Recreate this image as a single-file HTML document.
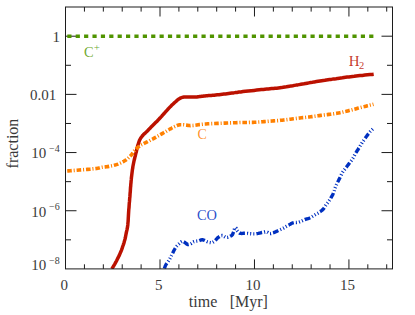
<!DOCTYPE html>
<html><head><meta charset="utf-8"><title>fraction vs time</title>
<style>html,body{margin:0;padding:0;background:#fff;overflow:hidden}svg{display:block}</style>
</head><body>
<svg width="415" height="315" viewBox="0 0 415 315">
<rect width="415" height="315" fill="#fff"/>
<defs><clipPath id="c"><rect x="65.5" y="7.0" width="327.0" height="261.9"/></clipPath></defs>
<path d="M84.44,268.9v-4.6M84.44,7.0v4.6M103.33,268.9v-4.6M103.33,7.0v4.6M122.23,268.9v-4.6M122.23,7.0v4.6M141.12,268.9v-4.6M141.12,7.0v4.6M160.01,268.9v-9.5M160.01,7.0v9.5M178.90,268.9v-4.6M178.90,7.0v4.6M197.79,268.9v-4.6M197.79,7.0v4.6M216.69,268.9v-4.6M216.69,7.0v4.6M235.58,268.9v-4.6M235.58,7.0v4.6M254.47,268.9v-9.5M254.47,7.0v9.5M273.36,268.9v-4.6M273.36,7.0v4.6M292.25,268.9v-4.6M292.25,7.0v4.6M311.15,268.9v-4.6M311.15,7.0v4.6M330.04,268.9v-4.6M330.04,7.0v4.6M348.93,268.9v-9.5M348.93,7.0v9.5M367.82,268.9v-4.6M367.82,7.0v4.6M386.71,268.9v-4.6M386.71,7.0v4.6M65.5,36.20h11M392.5,36.20h-11M65.5,65.29h5.5M392.5,65.29h-5.5M65.5,94.38h11M392.5,94.38h-11M65.5,123.47h5.5M392.5,123.47h-5.5M65.5,152.56h11M392.5,152.56h-11M65.5,181.65h5.5M392.5,181.65h-5.5M65.5,210.74h11M392.5,210.74h-11M65.5,239.83h5.5M392.5,239.83h-5.5" stroke="#1c1c1c" stroke-width="1" fill="none"/>
<g clip-path="url(#c)" fill="none">
<path d="M67.3,36.2 H373.5" stroke="#509400" stroke-width="3.6" stroke-dasharray="4.2 4.186"/>
<path d="M111.9,268.9 L112.4,268.0 L113.1,266.8 L114.0,265.3 L114.9,263.8 L115.8,262.2 L116.6,260.7 L117.3,259.3 L118.0,257.9 L118.7,256.5 L119.4,255.1 L120.0,253.6 L120.7,252.0 L121.4,250.3 L122.1,248.4 L122.7,246.5 L123.4,244.6 L124.0,242.7 L124.5,240.9 L125.0,239.2 L125.4,237.5 L125.7,235.8 L126.0,234.2 L126.3,232.7 L126.6,231.3 L126.9,230.1 L127.1,229.1 L127.3,228.2 L127.5,227.2 L127.6,226.2 L127.8,224.9 L127.9,223.4 L128.1,221.6 L128.2,219.8 L128.3,217.9 L128.4,216.1 L128.5,214.3 L128.6,212.6 L128.7,211.0 L128.8,209.4 L129.0,207.8 L129.1,206.2 L129.2,204.6 L129.3,203.0 L129.5,201.4 L129.6,199.9 L129.7,198.3 L129.9,196.7 L130.0,195.0 L130.1,193.3 L130.3,191.5 L130.4,189.7 L130.5,187.8 L130.7,186.0 L130.8,184.3 L131.0,182.6 L131.1,181.0 L131.3,179.4 L131.4,177.8 L131.6,176.2 L131.8,174.6 L132.0,173.0 L132.2,171.4 L132.4,169.7 L132.7,168.1 L132.9,166.5 L133.2,165.0 L133.5,163.5 L133.8,162.0 L134.1,160.5 L134.5,159.1 L134.8,157.7 L135.1,156.5 L135.4,155.4 L135.6,154.4 L135.8,153.5 L136.1,152.7 L136.3,151.8 L136.5,150.9 L136.7,149.9 L136.9,149.0 L137.2,148.0 L137.4,147.0 L137.6,146.0 L137.9,145.1 L138.2,144.2 L138.5,143.3 L138.8,142.4 L139.1,141.5 L139.4,140.6 L139.8,139.8 L140.2,139.0 L140.6,138.3 L141.1,137.6 L141.6,136.9 L142.1,136.2 L142.7,135.5 L143.3,134.8 L144.0,134.1 L144.8,133.4 L145.5,132.7 L146.3,132.0 L147.1,131.2 L147.9,130.4 L148.7,129.6 L149.5,128.7 L150.3,127.9 L151.1,127.1 L151.9,126.3 L152.7,125.5 L153.4,124.8 L154.2,124.0 L154.9,123.3 L155.6,122.6 L156.2,122.0 L156.8,121.4 L157.3,120.9 L157.7,120.5 L158.2,120.0 L158.7,119.4 L159.3,118.8 L160.0,118.0 L160.8,117.2 L161.6,116.3 L162.4,115.3 L163.3,114.4 L164.1,113.5 L164.9,112.6 L165.7,111.7 L166.5,110.8 L167.3,109.9 L168.1,109.1 L168.9,108.2 L169.7,107.3 L170.6,106.5 L171.4,105.6 L172.2,104.8 L173.0,104.1 L173.7,103.4 L174.3,102.8 L174.8,102.4 L175.3,102.0 L175.7,101.6 L176.1,101.3 L176.5,100.9 L176.9,100.5 L177.3,100.2 L177.6,99.9 L178.0,99.6 L178.4,99.3 L178.8,99.0 L179.3,98.7 L179.8,98.4 L180.4,98.1 L181.0,97.8 L181.6,97.6 L182.3,97.4 L183.0,97.2 L183.8,97.1 L184.6,97.0 L185.4,97.0 L186.3,96.9 L187.2,96.9 L188.2,96.9 L189.4,96.9 L190.6,97.0 L191.7,97.1 L192.9,97.1 L193.9,97.1 L194.8,97.1 L195.6,97.0 L196.3,97.0 L197.1,96.9 L197.8,96.8 L198.7,96.7 L199.6,96.6 L200.6,96.5 L201.7,96.3 L202.7,96.2 L203.9,96.0 L205.0,95.9 L206.2,95.8 L207.4,95.7 L208.6,95.6 L209.9,95.5 L211.2,95.4 L212.6,95.3 L214.1,95.2 L215.7,95.0 L217.3,94.8 L219.0,94.7 L220.7,94.5 L222.3,94.3 L223.9,94.1 L225.5,93.9 L227.0,93.7 L228.6,93.5 L230.2,93.3 L231.9,93.1 L233.6,92.9 L235.3,92.6 L237.0,92.4 L238.9,92.1 L240.8,91.9 L243.0,91.6 L245.5,91.3 L248.3,91.0 L251.2,90.7 L254.1,90.4 L256.8,90.1 L259.3,89.8 L261.4,89.6 L263.3,89.4 L265.0,89.2 L266.7,89.1 L268.3,89.0 L270.0,88.8 L271.7,88.6 L273.4,88.5 L275.1,88.3 L276.7,88.2 L278.4,88.0 L280.0,87.8 L281.6,87.6 L283.2,87.3 L284.8,87.0 L286.4,86.8 L288.0,86.5 L289.6,86.2 L291.2,85.9 L292.8,85.7 L294.5,85.4 L296.1,85.1 L297.7,84.9 L299.3,84.6 L300.9,84.3 L302.5,84.0 L304.0,83.8 L305.6,83.5 L307.2,83.2 L308.9,82.9 L310.7,82.6 L312.5,82.3 L314.4,81.9 L316.4,81.6 L318.2,81.3 L320.0,81.0 L321.7,80.7 L323.3,80.5 L324.9,80.3 L326.4,80.0 L328.0,79.8 L329.6,79.6 L331.2,79.4 L332.8,79.1 L334.5,78.9 L336.1,78.7 L337.7,78.4 L339.3,78.2 L340.9,78.0 L342.5,77.8 L344.0,77.5 L345.6,77.3 L347.2,77.1 L348.9,76.9 L350.6,76.7 L352.4,76.5 L354.2,76.3 L356.1,76.0 L358.0,75.8 L360.0,75.6 L362.3,75.4 L364.9,75.1 L367.5,74.8 L370.1,74.6 L372.2,74.4 L373.7,74.2" stroke="#bb1100" stroke-width="3.5" stroke-linejoin="round"/>
<path d="M67.2,171.0 L68.5,170.9 L70.2,170.8 L72.3,170.6 L74.6,170.4 L77.0,170.2 L79.3,170.0 L81.8,169.8 L84.5,169.6 L87.3,169.4 L90.1,169.2 L92.6,168.9 L94.7,168.7 L96.4,168.5 L97.8,168.2 L98.9,168.0 L99.9,167.7 L100.9,167.5 L101.9,167.3 L102.9,167.2 L103.8,167.1 L104.7,167.0 L105.6,166.9 L106.6,166.8 L107.7,166.6 L109.0,166.4 L110.4,166.1 L111.9,165.8 L113.4,165.5 L114.9,165.1 L116.4,164.6 L117.9,164.1 L119.4,163.4 L120.9,162.8 L122.4,162.0 L123.8,161.3 L125.1,160.5 L126.3,159.7 L127.5,158.7 L128.5,157.8 L129.5,156.8 L130.5,155.9 L131.3,155.0 L132.0,154.2 L132.6,153.4 L133.1,152.6 L133.6,151.9 L134.0,151.2 L134.5,150.6 L135.0,150.0 L135.5,149.5 L136.0,149.0 L136.5,148.5 L137.0,148.1 L137.5,147.6 L138.1,147.1 L138.7,146.7 L139.3,146.3 L139.9,145.8 L140.5,145.4 L141.2,145.0 L141.8,144.6 L142.5,144.3 L143.1,144.0 L143.8,143.6 L144.6,143.2 L145.6,142.7 L146.7,142.1 L148.0,141.4 L149.5,140.7 L150.9,139.9 L152.4,139.2 L153.8,138.4 L155.2,137.6 L156.6,136.8 L158.0,136.0 L159.4,135.2 L160.8,134.4 L162.2,133.6 L163.6,132.8 L165.1,131.9 L166.5,131.1 L167.9,130.2 L169.2,129.5 L170.4,128.8 L171.4,128.3 L172.3,127.8 L173.1,127.4 L173.8,127.0 L174.5,126.7 L175.2,126.4 L175.9,126.1 L176.5,125.8 L177.2,125.5 L177.8,125.3 L178.4,125.1 L179.1,124.9 L179.8,124.8 L180.6,124.7 L181.4,124.7 L182.3,124.7 L183.1,124.8 L183.9,124.8 L184.7,124.9 L185.5,125.0 L186.3,125.1 L187.1,125.3 L187.9,125.4 L188.7,125.5 L189.5,125.5 L190.3,125.6 L191.1,125.5 L191.9,125.5 L192.7,125.5 L193.6,125.4 L194.4,125.3 L195.3,125.2 L196.1,125.1 L197.0,124.9 L198.1,124.7 L199.3,124.6 L200.7,124.5 L202.3,124.3 L204.1,124.1 L205.9,124.0 L207.9,123.8 L210.0,123.7 L212.3,123.6 L214.8,123.5 L217.4,123.4 L220.0,123.3 L222.6,123.2 L225.0,123.1 L227.3,123.0 L229.6,122.9 L231.8,122.8 L233.9,122.7 L235.8,122.7 L237.6,122.6 L239.1,122.6 L240.3,122.5 L241.4,122.5 L242.4,122.5 L243.5,122.5 L244.8,122.5 L246.3,122.5 L247.9,122.5 L249.5,122.4 L251.2,122.4 L252.9,122.4 L254.5,122.3 L256.1,122.2 L257.7,122.1 L259.3,122.0 L260.9,121.9 L262.5,121.7 L264.1,121.6 L265.7,121.5 L267.3,121.4 L269.0,121.2 L270.6,121.1 L272.2,121.0 L273.7,120.9 L275.2,120.8 L276.6,120.7 L277.9,120.6 L279.3,120.5 L280.7,120.3 L282.2,120.2 L283.7,120.0 L285.3,119.8 L287.0,119.6 L288.6,119.4 L290.3,119.2 L291.9,119.0 L293.5,118.8 L295.1,118.6 L296.7,118.4 L298.3,118.2 L299.9,118.0 L301.5,117.8 L303.1,117.6 L304.6,117.5 L306.2,117.3 L307.7,117.1 L309.2,117.0 L310.7,116.8 L312.2,116.6 L313.6,116.4 L315.0,116.2 L316.4,116.0 L317.8,115.8 L319.3,115.6 L320.8,115.4 L322.4,115.2 L324.0,115.0 L325.7,114.8 L327.3,114.6 L328.9,114.4 L330.5,114.2 L332.1,114.0 L333.7,113.8 L335.3,113.5 L336.9,113.3 L338.5,113.0 L340.1,112.7 L341.6,112.4 L343.1,112.0 L344.6,111.6 L346.2,111.3 L347.7,110.9 L349.2,110.5 L350.8,110.1 L352.3,109.7 L353.8,109.3 L355.4,108.9 L356.9,108.5 L358.4,108.1 L360.0,107.7 L361.6,107.3 L363.1,106.9 L364.6,106.6 L366.0,106.2 L367.4,105.8 L368.9,105.5 L370.3,105.1 L371.6,104.8 L372.7,104.5 L373.5,104.3" stroke="#ff8000" stroke-width="3.6" stroke-dasharray="4.6 1.9 1.02 1.9" stroke-linejoin="round"/>
<path d="M164.3,268.9 L164.4,268.5 L164.6,267.9 L164.8,267.3 L165.1,266.5 L165.4,265.7 L165.8,264.9 L166.3,264.1 L166.9,263.2 L167.5,262.4 L168.2,261.4 L168.9,260.3 L169.6,259.1 L170.4,257.7 L171.2,256.0 L172.1,254.2 L173.0,252.4 L173.8,250.8 L174.5,249.5 L175.1,248.5 L175.6,247.7 L176.0,247.1 L176.4,246.6 L176.8,246.1 L177.3,245.6 L177.8,245.0 L178.3,244.4 L178.9,243.9 L179.4,243.4 L179.9,242.9 L180.4,242.5 L180.8,242.2 L181.2,241.9 L181.6,241.6 L182.0,241.4 L182.3,241.3 L182.7,241.3 L183.1,241.4 L183.5,241.6 L183.9,241.8 L184.3,242.1 L184.7,242.4 L185.1,242.7 L185.6,243.0 L186.0,243.4 L186.5,243.8 L187.0,244.2 L187.5,244.4 L188.0,244.6 L188.5,244.6 L188.9,244.5 L189.4,244.4 L189.9,244.2 L190.3,243.9 L190.8,243.7 L191.3,243.4 L191.7,243.1 L192.1,242.7 L192.6,242.3 L193.1,242.0 L193.7,241.7 L194.4,241.5 L195.1,241.4 L195.9,241.2 L196.7,241.1 L197.5,241.0 L198.3,240.9 L199.1,240.7 L199.8,240.4 L200.5,240.2 L201.3,239.9 L202.0,239.8 L202.8,239.8 L203.6,240.0 L204.4,240.3 L205.2,240.7 L206.1,241.1 L206.8,241.5 L207.6,241.8 L208.3,242.0 L209.0,242.3 L209.6,242.5 L210.3,242.6 L210.9,242.7 L211.5,242.7 L212.1,242.6 L212.7,242.3 L213.2,242.0 L213.8,241.6 L214.3,241.2 L214.9,240.8 L215.4,240.3 L216.0,239.7 L216.5,239.1 L217.1,238.5 L217.6,237.9 L218.2,237.4 L218.8,237.0 L219.5,236.5 L220.1,236.1 L220.8,235.8 L221.4,235.6 L222.1,235.5 L222.8,235.6 L223.4,236.0 L224.1,236.4 L224.7,236.8 L225.4,237.2 L226.0,237.4 L226.6,237.4 L227.3,237.4 L228.0,237.2 L228.6,237.0 L229.2,236.8 L229.8,236.5 L230.3,236.2 L230.8,236.0 L231.3,235.7 L231.8,235.3 L232.3,234.8 L232.7,234.2 L233.1,233.2 L233.6,231.9 L234.0,230.5 L234.4,229.2 L234.8,228.2 L235.2,227.6 L235.6,227.6 L236.0,228.0 L236.3,228.7 L236.7,229.6 L237.1,230.4 L237.5,231.0 L237.9,231.5 L238.3,231.9 L238.7,232.4 L239.1,232.7 L239.6,233.1 L240.2,233.3 L240.9,233.4 L241.8,233.5 L242.7,233.4 L243.6,233.3 L244.6,233.3 L245.5,233.3 L246.4,233.4 L247.4,233.4 L248.4,233.6 L249.4,233.7 L250.4,233.7 L251.3,233.8 L252.1,233.8 L252.9,233.9 L253.6,233.9 L254.4,233.9 L255.2,233.9 L256.1,233.8 L257.1,233.6 L258.3,233.4 L259.5,233.1 L260.7,232.8 L261.8,232.5 L262.8,232.3 L263.6,232.2 L264.3,232.0 L265.0,232.0 L265.6,231.9 L266.1,231.9 L266.7,232.0 L267.3,232.2 L267.8,232.5 L268.2,232.8 L268.7,233.2 L269.2,233.5 L269.8,233.6 L270.4,233.6 L271.0,233.5 L271.7,233.3 L272.3,233.1 L273.0,232.8 L273.7,232.6 L274.4,232.3 L275.1,232.1 L275.8,231.7 L276.5,231.4 L277.2,231.1 L278.0,230.7 L278.8,230.3 L279.7,229.9 L280.6,229.5 L281.5,229.1 L282.4,228.6 L283.3,228.2 L284.1,227.7 L285.0,227.2 L285.8,226.7 L286.6,226.2 L287.4,225.8 L288.2,225.3 L289.0,224.9 L289.8,224.4 L290.6,224.0 L291.4,223.5 L292.2,223.2 L293.0,222.9 L293.8,222.7 L294.7,222.6 L295.5,222.5 L296.3,222.5 L297.1,222.4 L297.8,222.3 L298.4,222.2 L299.0,222.0 L299.6,221.8 L300.1,221.6 L300.6,221.4 L301.2,221.2 L301.8,220.9 L302.3,220.7 L302.9,220.4 L303.5,220.1 L304.1,219.8 L304.8,219.5 L305.5,219.3 L306.3,219.0 L307.1,218.8 L307.9,218.6 L308.8,218.3 L309.6,218.0 L310.4,217.6 L311.2,217.1 L312.1,216.6 L312.9,216.1 L313.7,215.6 L314.5,215.1 L315.3,214.6 L316.1,214.1 L317.0,213.6 L317.8,213.2 L318.6,212.7 L319.3,212.2 L320.0,211.7 L320.7,211.3 L321.3,210.8 L321.9,210.4 L322.5,209.9 L323.1,209.3 L323.6,208.7 L324.1,208.0 L324.6,207.2 L325.1,206.4 L325.5,205.7 L326.0,205.0 L326.5,204.3 L327.0,203.7 L327.5,203.1 L328.0,202.5 L328.4,201.8 L328.9,201.2 L329.3,200.6 L329.8,199.9 L330.2,199.2 L330.6,198.6 L330.9,197.9 L331.3,197.3 L331.6,196.7 L331.9,196.2 L332.2,195.7 L332.5,195.2 L332.8,194.5 L333.1,193.8 L333.4,192.9 L333.8,191.9 L334.2,190.7 L334.5,189.6 L334.9,188.5 L335.3,187.4 L335.7,186.4 L336.2,185.4 L336.6,184.4 L337.1,183.4 L337.5,182.5 L337.9,181.7 L338.3,181.0 L338.6,180.3 L338.9,179.8 L339.1,179.2 L339.5,178.6 L339.8,177.9 L340.2,177.1 L340.6,176.3 L341.0,175.4 L341.4,174.5 L341.8,173.6 L342.3,172.8 L342.8,172.0 L343.3,171.3 L343.8,170.5 L344.4,169.8 L344.9,169.1 L345.5,168.3 L346.1,167.5 L346.7,166.7 L347.4,165.8 L348.0,165.0 L348.7,164.1 L349.3,163.3 L349.9,162.5 L350.5,161.6 L351.2,160.8 L351.8,159.9 L352.3,159.1 L352.9,158.2 L353.4,157.3 L353.9,156.5 L354.4,155.6 L354.8,154.7 L355.3,153.9 L355.8,153.0 L356.3,152.2 L356.8,151.3 L357.3,150.5 L357.9,149.7 L358.4,148.8 L359.0,147.9 L359.6,146.9 L360.2,145.8 L360.9,144.7 L361.6,143.6 L362.2,142.6 L362.8,141.6 L363.4,140.8 L363.9,140.0 L364.4,139.3 L364.9,138.6 L365.4,137.9 L366.0,137.1 L366.6,136.3 L367.2,135.4 L367.9,134.5 L368.5,133.7 L369.2,132.8 L369.8,132.1 L370.4,131.4 L371.1,130.7 L371.7,130.1 L372.3,129.5 L372.7,129.1 L373.1,128.7" stroke="#0030c0" stroke-width="3.4" stroke-dasharray="5.8 2.11 1.04 2.11 1.04 2.11 1.04 2.11" stroke-dashoffset="-0.4" stroke-linejoin="round"/>
</g>
<rect x="65.5" y="7.0" width="327.0" height="261.9" fill="none" stroke="#1c1c1c" stroke-width="1"/>
<g font-family="'Liberation Serif', serif" fill="#3a3a3a">
<text x="60.6" y="289.6" font-size="15">0</text>
<text x="155" y="289.6" font-size="15">5</text>
<text x="245.6" y="289.6" font-size="15">10</text>
<text x="340.1" y="289.6" font-size="15">15</text>
<text x="188.8" y="307.2" font-size="16">time</text>
<text x="229.7" y="307.2" font-size="16">[Myr]</text>
<text transform="translate(17.8,167.9) rotate(-90)" x="-0.5" y="0" font-size="16">fraction</text>
<text x="52.6" y="42" font-size="15">1</text>
<text x="30" y="100" font-size="15">0.01</text>
<text x="31.3" y="158.46" font-size="15">10</text>
<text x="49" y="152.06" font-size="10">−4</text>
<text x="31.3" y="216.64" font-size="15">10</text>
<text x="49" y="210.24" font-size="10">−6</text>
<text x="31.3" y="269.92" font-size="15">10</text>
<text x="49" y="263.52" font-size="10">−8</text>
</g>
<g font-family="'Liberation Serif', serif" fill-opacity="0.85">
<text x="84" y="57" font-size="14.4" fill="#559900">C</text>
<text x="93.8" y="51" font-size="11" fill="#559900">+</text>
<text x="348.7" y="65.6" font-size="15" fill="#bb1100">H</text>
<text x="358.9" y="68.8" font-size="10.5" fill="#bb1100">2</text>
<text x="197.5" y="138.6" font-size="14" fill="#ff8000">C</text>
<text x="197" y="219.9" font-size="14.4" fill="#0030c0">CO</text>
</g>
</svg>
</body></html>
